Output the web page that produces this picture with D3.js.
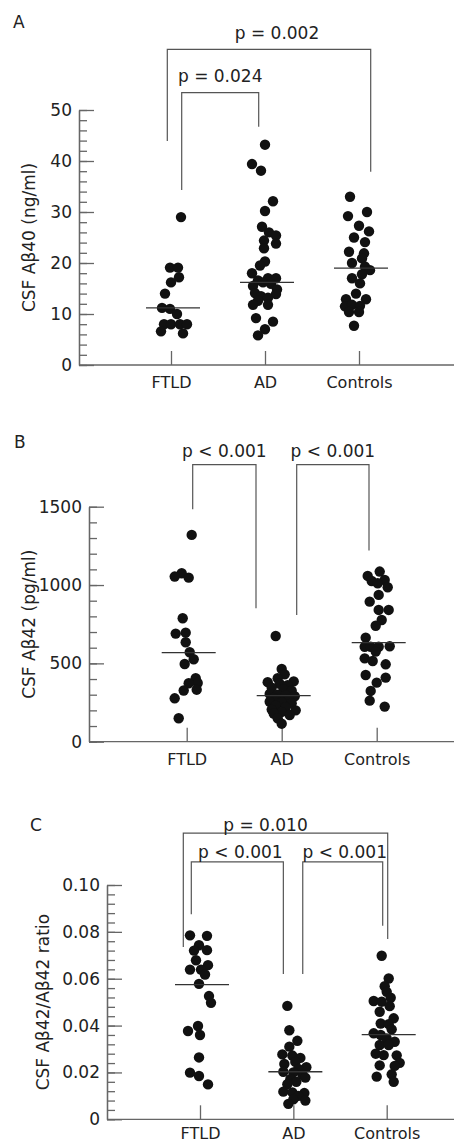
<!DOCTYPE html>
<html lang="en">
<head>
<meta charset="utf-8">
<title>CSF amyloid beta in FTLD, AD and controls</title>
<script src="https://cdn.jsdelivr.net/npm/d3@7"></script>
<style>
  body { margin: 0; background: #fff; }
  text { font-family: "DejaVu Sans", sans-serif; fill: #222; }
</style>
</head>
<body>
<script>
var groups = ["FTLD", "AD", "Controls"];

// each point: [value, jitter]; jitter is sideways spread in dot widths
var ab40_ftld = [[29.0, 1.0], [19.1, -0.1], [19.1, 0.7], [17.2, 0.8], [16.2, 0.0], [14.0, -0.6], [11.2, -0.9], [11.0, -0.1],
  [10.0, 0.6], [8.0, -0.7], [8.0, 0.0], [8.0, 0.9], [8.0, 1.6], [6.6, -1.0], [6.2, 1.2]];
var ab40_ad = [[43.2, 0.0], [39.4, -1.3], [38.1, -0.4], [32.1, 0.8], [30.2, 0.0], [27.1, -0.3], [26.0, 0.4], [25.4, 1.1],
  [24.4, -0.1], [23.8, 1.1], [22.9, -0.1], [20.3, 0.0], [19.5, -0.5], [18.0, -1.3], [17.0, 0.3], [17.0, 1.1],
  [16.6, -0.7], [16.2, -0.2], [15.9, 0.6], [15.5, -1.2], [14.8, 1.2], [14.1, -1.0], [13.9, 1.1], [13.5, -0.4],
  [13.2, 0.3], [12.6, -0.7], [11.8, -1.2], [11.8, 0.3], [9.2, -0.9], [8.5, 0.8], [7.0, 0.0], [5.8, -0.7]];
var ab40_ctrl = [[33.0, -0.9], [30.0, 0.8], [29.2, -1.1], [27.3, 0.0], [26.2, 1.0], [25.0, -0.5], [24.1, 0.6], [22.2, -1.0],
  [21.9, 0.5], [20.9, 0.3], [20.0, -0.7], [19.3, 0.6], [18.6, 1.1], [17.8, 0.3], [17.0, -0.7], [16.0, 0.1],
  [14.0, -0.3], [12.9, 0.7], [12.9, -1.3], [11.5, -1.4], [11.8, -0.7], [11.6, 0.1], [10.4, -1.0], [10.4, 0.0], [7.7, -0.5]];

var ab42_ftld = [[1320, 0.5], [1075, -0.5], [1054, -1.2], [1047, 0.2], [788, -0.4], [690, -1.1], [696, -0.1], [635, -0.1],
  [571, 0.3], [526, 0.7], [496, -0.2], [405, 0.9], [375, 1.1], [373, 0.2], [327, -0.3], [332, 1.0], [277, -1.2], [150, -0.8]];
var ab42_ad = [[675, -0.6], [464, 0.0], [430, 0.3], [405, -0.4], [380, -1.4], [385, 1.2], [370, -0.2], [360, 0.6],
  [345, -1.0], [335, 0.2], [325, 1.0], [305, -1.2], [300, -0.4], [295, 0.4], [290, 1.3], [280, -0.8], [270, 0.7],
  [255, -1.2], [250, 0.0], [245, 1.0], [230, -0.6], [220, 0.4], [205, -1.0], [200, 1.4], [190, 0.0], [180, -0.8],
  [170, 0.8], [150, -0.4], [115, 0.0]];
var ab42_ctrl = [[1086, 0.3], [1058, -0.9], [1026, -0.5], [1032, 0.8], [986, 1.1], [1011, 0.1], [937, 0.2], [894, -0.7],
  [841, 0.2], [841, 1.2], [777, 0.5], [740, -0.1], [664, -1.1], [606, -1.2], [606, -0.6], [606, 0.2], [609, 1.3],
  [575, -0.1], [532, -1.2], [515, -0.4], [494, 0.9], [426, -1.1], [409, 0.9], [377, 0.0], [324, -0.6], [262, -0.7], [224, 0.8]];

var ratio_ftld = [[0.0785, -1.0], [0.0783, 0.7], [0.0743, -0.1], [0.0720, -0.6], [0.0722, 0.7], [0.0679, -0.4],
  [0.0658, 0.8], [0.0639, -1.0], [0.0639, 0.1], [0.0618, 0.5], [0.0578, -0.1], [0.0526, 0.9], [0.0497, 1.1],
  [0.0398, -0.2], [0.0377, -1.2], [0.0360, 0.0], [0.0264, -0.1], [0.0199, -1.0], [0.0185, -0.1], [0.0149, 0.8]];
var ratio_ad = [[0.0484, -0.6], [0.0380, -0.4], [0.0335, 0.4], [0.0310, -0.4], [0.0277, -1.1], [0.0272, -0.1],
  [0.0262, 0.7], [0.0245, 0.2], [0.0236, -0.9], [0.0222, 1.3], [0.0215, 0.5], [0.0203, -1.0], [0.0200, 0.0],
  [0.0190, 0.9], [0.0178, 1.2], [0.0171, -0.3], [0.0160, 0.3], [0.0150, -0.6], [0.0118, -1.0], [0.0115, -0.1],
  [0.0112, 1.1], [0.0100, 0.5], [0.0085, 0.0], [0.0080, 1.2], [0.0066, -0.5]];
var ratio_ctrl = [[0.0698, -0.5], [0.0601, 0.2], [0.0568, -0.2], [0.0544, 0.0], [0.0519, 0.4], [0.0505, -1.3],
  [0.0502, -0.5], [0.0483, 0.3], [0.0459, -0.7], [0.0431, 0.7], [0.0409, -0.6], [0.0406, 0.2], [0.0384, 0.5],
  [0.0367, -1.3], [0.0360, -0.6], [0.0345, 0.0], [0.0331, 0.8], [0.0317, -0.7], [0.0317, 0.2], [0.0280, -1.1],
  [0.0274, -0.3], [0.0273, 1.0], [0.0241, 1.3], [0.0230, -0.7], [0.0228, 0.8], [0.0192, 0.5], [0.0182, -1.0], [0.0160, 0.7]];

var ab40_median = [11.2, 16.2, 19.0];
var ab42_median = [568, 294, 633];
var ratio_median = [0.0575, 0.0203, 0.0361];

var ab40_ticks = [0, 10, 20, 30, 40, 50];
var ab42_ticks = [0, 500, 1000, 1500];
var ratio_ticks = [0, 0.02, 0.04, 0.06, 0.08, 0.10];

var ab40_p = [["FTLD", "AD", "p = 0.024"], ["FTLD", "Controls", "p = 0.002"]];
var ab42_p = [["FTLD", "AD", "p < 0.001"], ["AD", "Controls", "p < 0.001"]];
var ratio_p = [["FTLD", "Controls", "p = 0.010"], ["FTLD", "AD", "p < 0.001"], ["AD", "Controls", "p < 0.001"]];

// layout of the three panels
var panels = [
  { letter: "A", lx: 13, ly: 28, title: "CSF A\u03b240 (ng/ml)", tx: 35, pad: 11.5,
    axisX: 79, y0: 365, yTop: 110, domain: [0, 50], minor: 2, xr: [171, 359],
    fmt: d3.format("d"), ticks: ab40_ticks, med: ab40_median,
    data: [ab40_ftld, ab40_ad, ab40_ctrl], p: ab40_p,
    br: [{ bar: 53.4, d1: 10.7, d2: -6.3, l1: 34.3, l2: 46.7, ty: 10.7, tx: 0 },
         { bar: 61.9, d1: -3.7, d2: 11.7, l1: 43.9, l2: 37.9, ty: 10.3, tx: 8 }] },
  { letter: "B", lx: 14, ly: 448, title: "CSF A\u03b242 (pg/ml)", tx: 35, pad: 11.5,
    axisX: 89, y0: 741.7, yTop: 506.7, domain: [0, 1500], minor: 100, xr: [186.7, 376.7],
    fmt: d3.format("d"), ticks: ab42_ticks, med: ab42_median,
    data: [ab42_ftld, ab42_ad, ab42_ctrl], p: ab42_p,
    br: [{ bar: 1769, d1: 6, d2: -25.7, l1: 1484, l2: 852, ty: 7.7, tx: 0 },
         { bar: 1769, d1: 15, d2: -7.7, l1: 809, l2: 1220, ty: 7.7, tx: 0 }] },
  { letter: "C", lx: 30, ly: 831, title: "CSF A\u03b242/A\u03b242 ratio", tx: 49, pad: 8,
    axisX: 107, y0: 1119.3, yTop: 885, domain: [0, 0.1], minor: 0.004, xr: [200, 386.7],
    fmt: function (d) { return d === 0 ? "0" : d3.format(".2f")(d); }, ticks: ratio_ticks, med: ratio_median,
    data: [ratio_ftld, ratio_ad, ratio_ctrl], p: ratio_p,
    br: [{ bar: 0.1221, d1: -16.7, d2: 1, l1: 0.0735, l2: 0.0769, ty: 2.3, tx: -20 },
         { bar: 0.1099, d1: -8.7, d2: -10, l1: 0.0875, l2: 0.0620, ty: 3.7, tx: 3 },
         { bar: 0.1099, d1: 9.4, d2: -4, l1: 0.0620, l2: 0.0826, ty: 3.7, tx: 2 }] }
];

var svg = d3.select("body").append("svg")
  .attr("width", 454)
  .attr("height", 1142);

var jit = d3.scaleLinear().domain([-1, 1]).range([-10, 10]);

panels.forEach(function (p) {
  var y = d3.scaleLinear().domain(p.domain).range([p.y0, p.yTop]);
  var x = d3.scalePoint().domain(groups).range(p.xr);
  var g = svg.append("g");

  //Minor y ticks
  var minorTicks = d3.range(p.domain[0], p.domain[1] + p.minor / 2, p.minor);
  g.append("g")
    .attr("transform", "translate(" + p.axisX + ",0)")
    .call(d3.axisLeft(y).tickValues(minorTicks).tickSize(-8).tickSizeOuter(0).tickFormat(""));

  //Major y ticks and labels
  var ya = g.append("g")
    .attr("transform", "translate(" + p.axisX + ",0)")
    .call(d3.axisLeft(y).tickValues(p.ticks).tickSize(-15).tickSizeOuter(0).tickPadding(7).tickFormat(p.fmt));
  ya.selectAll("text").style("font-size", "17px");

  //x baseline
  g.append("line")
    .attr("x1", p.axisX).attr("x2", 454)
    .attr("y1", p.y0).attr("y2", p.y0);

  //category ticks and labels
  var xa = g.append("g")
    .attr("transform", "translate(0," + p.y0 + ")")
    .call(d3.axisBottom(x).tickSize(-14).tickPadding(p.pad));
  xa.select(".domain").remove();
  xa.selectAll("text").style("font-size", "16px");

  g.selectAll(".domain, .tick line, line").attr("stroke", "#666").attr("stroke-width", 1.3);

  //dots
  p.data.forEach(function (pts, i) {
    g.selectAll(null)
      .data(pts)
      .enter()
      .append("circle")
      .attr("cx", function (d) { return x(groups[i]) + jit(d[1]); })
      .attr("cy", function (d) { return y(d[0]); })
      .attr("r", 5.2)
      .attr("fill", "#111");
  });

  //median lines
  g.selectAll(null)
    .data(p.med)
    .enter()
    .append("line")
    .attr("x1", function (d, i) { return x(groups[i]) + 2 - 27; })
    .attr("x2", function (d, i) { return x(groups[i]) + 2 + 27; })
    .attr("y1", function (d) { return y(d); })
    .attr("y2", function (d) { return y(d); })
    .attr("stroke", "#333")
    .attr("stroke-width", 1.3);

  //significance brackets
  p.p.forEach(function (c, i) {
    var b = p.br[i];
    var x1 = x(c[0]) + b.d1, x2 = x(c[1]) + b.d2;
    g.append("path")
      .attr("d", "M" + x1 + "," + y(b.l1) + "V" + y(b.bar) + "H" + x2 + "V" + y(b.l2))
      .attr("fill", "none")
      .attr("stroke", "#555")
      .attr("stroke-width", 1.2);
    g.append("text")
      .attr("x", (x1 + x2) / 2 + b.tx)
      .attr("y", y(b.bar) - b.ty)
      .attr("text-anchor", "middle")
      .style("font-size", "17px")
      .text(c[2]);
  });

  //y title
  g.append("text")
    .attr("transform", "translate(" + p.tx + "," + (p.y0 + p.yTop) / 2 + ") rotate(-90)")
    .attr("text-anchor", "middle")
    .style("font-size", "17px")
    .text(p.title);

  //panel letter
  g.append("text")
    .attr("x", p.lx)
    .attr("y", p.ly)
    .style("font-size", "17px")
    .text(p.letter);
});
</script>
</body>
</html>
